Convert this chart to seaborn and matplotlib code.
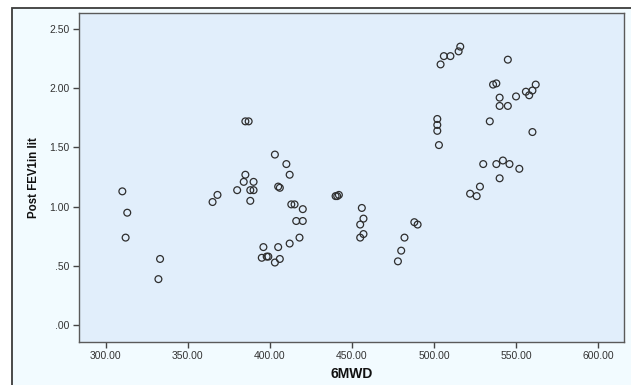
import numpy as np
import matplotlib
matplotlib.use("Agg")
import matplotlib.pyplot as plt
from matplotlib.patches import Rectangle
import seaborn as sns

# ---- data ----
mwd = [310, 313, 312, 333, 332,
       365, 368, 380, 384, 385, 385, 387, 388, 390, 390, 388,
       403, 410, 412, 405, 406, 413, 415, 420, 416, 420, 418, 412,
       396, 405, 395, 398, 399, 406, 403,
       440, 441, 442, 456, 457, 455, 457, 455,
       482, 480, 478, 488, 490,
       522, 526, 528, 540, 530, 538, 542, 546, 552,
       502, 502, 502, 503, 534, 560,
       540, 545, 540, 550, 536, 538, 556, 560, 558, 562,
       504, 506, 510, 515, 516, 545]
fev1 = [1.13, 0.95, 0.74, 0.56, 0.39,
        1.04, 1.10, 1.14, 1.21, 1.27, 1.72, 1.72, 1.14, 1.14, 1.21, 1.05,
        1.44, 1.36, 1.27, 1.17, 1.16, 1.02, 1.02, 0.98, 0.88, 0.88, 0.74, 0.69,
        0.66, 0.66, 0.57, 0.58, 0.58, 0.56, 0.53,
        1.09, 1.09, 1.10, 0.99, 0.90, 0.85, 0.77, 0.74,
        0.74, 0.63, 0.54, 0.87, 0.85,
        1.11, 1.09, 1.17, 1.24, 1.36, 1.36, 1.39, 1.36, 1.32,
        1.74, 1.69, 1.64, 1.52, 1.72, 1.63,
        1.85, 1.85, 1.92, 1.93, 2.03, 2.04, 1.97, 1.98, 1.94, 2.03,
        2.20, 2.27, 2.27, 2.31, 2.35, 2.24]

x_ticks = [300, 350, 400, 450, 500, 550, 600]
y_ticks = [0.0, 0.5, 1.0, 1.5, 2.0, 2.5]
x_labels = ["%.2f" % v for v in x_ticks]
y_labels = [("%.2f" % v).lstrip("0") if v < 1 else "%.2f" % v for v in y_ticks]

sns.set_style("ticks")
plt.rcParams['font.family'] = ['Liberation Sans', 'DejaVu Sans']

fig = plt.figure(figsize=(6.31, 3.85), dpi=100, facecolor="white")

# outer chart frame (SPSS style)
frame = Rectangle((12 / 631, -0.05), 1.0, (385 - 8) / 385 + 0.05,
                  transform=fig.transFigure, facecolor="#F2FBFF",
                  edgecolor="#3c3c3c", linewidth=1.3, zorder=0)
fig.add_artist(frame)

ax = fig.add_axes([78.7 / 631, 1 - 342 / 385, (624.3 - 78.7) / 631, (342 - 12.7) / 385])
ax.set_zorder(2)
ax.set_facecolor("#E1EEFB")

sns.scatterplot(x=mwd, y=fev1, ax=ax, marker="o", s=24,
                facecolor="none", edgecolor="#2e2e2e", linewidth=0.9)

ax.set_xlim(283.4, 616)
ax.set_ylim(-0.14, 2.636)
ax.set_xticks(x_ticks)
ax.set_xticklabels(x_labels)
ax.set_yticks(y_ticks)
ax.set_yticklabels(y_labels)
ax.tick_params(axis="both", labelsize=7.5, colors="#444444", labelcolor="#333333",
               length=4.5, width=1, pad=2)

for sp in ax.spines.values():
    sp.set_color("#5a5a5a")
    sp.set_linewidth(1)

ax.set_xlabel("6MWD", fontsize=10, fontweight="bold", color="#111111", labelpad=4)
ax.set_ylabel("Post FEV1in lit", fontsize=8.3, fontweight="bold", color="#111111", labelpad=7)

fig.savefig("out.png", dpi=100, facecolor="white")
